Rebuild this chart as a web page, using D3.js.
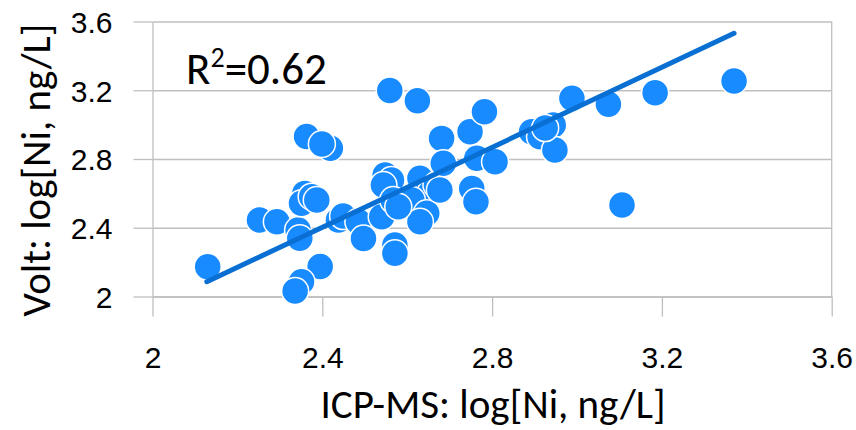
<!DOCTYPE html>
<html>
<head>
<meta charset="utf-8">
<script src="https://cdn.jsdelivr.net/npm/d3@7"></script>
<style>
  body { margin: 0; background: #fff; }
  svg { display: block; font-family: Carlito, Calibri, Lato, sans-serif; }
</style>
</head>
<body>
<div id="chart"></div>
<script>
// ICP-MS vs Volt, log[Ni, ng/L]
const icpValues = [
  2.130, 2.252, 2.293, 2.343, 2.347, 2.359, 2.351, 2.375, 2.387, 2.395,
  2.351, 2.336, 2.363, 2.419, 2.399, 2.438, 2.449, 2.485, 2.497, 2.540,
  2.548, 2.563, 2.544, 2.567, 2.559, 2.624, 2.571, 2.571, 2.630, 2.654,
  2.669, 2.611, 2.646, 2.630, 2.579, 2.681, 2.685, 2.748, 2.782, 2.752,
  2.762, 2.764, 2.807, 2.893, 2.913, 2.944, 2.948, 2.925, 2.988, 3.074,
  3.184, 3.370, 3.106, 2.677,
]
const voltValues = [
  2.173, 2.445, 2.435, 2.387, 2.339, 2.600, 2.542, 2.581, 2.561, 2.175,
  2.086, 2.032, 2.931, 2.862, 2.887, 2.445, 2.468, 2.435, 2.337, 2.464,
  2.707, 2.678, 2.649, 2.561, 3.198, 3.139, 2.300, 2.251, 2.688, 2.600,
  2.649, 2.561, 2.484, 2.435, 2.522, 2.920, 2.775, 2.959, 3.075, 2.629,
  2.551, 2.804, 2.784, 2.959, 2.930, 2.998, 2.852, 2.980, 3.153, 3.118,
  3.186, 3.254, 2.532, 2.620,
]
// linear trendline end points
const trendX = [2.128, 3.37]
const trendY = [2.086, 3.531]
const tickValues = [2, 2.4, 2.8, 3.2, 3.6]
const rSquaredLabel = '0.62'

const width = 856
const height = 430
const marginLeft = 152.5
const marginRight = 24.3
const marginTop = 21.5
const marginBottom = 133.5
const coreChartWidth = width - marginLeft - marginRight
const coreChartHeight = height - marginTop - marginBottom

const gridColor = '#bfbfbf'
const dotColor = '#178bff'
const lineColor = '#0a6fd2'
const tickFontSize = 30
const titleFontSize = 41

const svg = d3
  .select('#chart')
  .append('svg')
  .attr('width', width)
  .attr('height', height)

const chartCore = svg
  .append('g')
  .attr('transform', `translate(${marginLeft},${marginTop})`)

const xScale = d3.scaleLinear().domain([2, 3.6]).range([0, coreChartWidth])
const yScale = d3.scaleLinear().domain([2, 3.6]).range([coreChartHeight, 0])

// horizontal grid
chartCore
  .append('g')
  .call(
    d3.axisLeft(yScale).tickValues(tickValues).tickSize(-coreChartWidth),
  )
  .call(g => g.select('.domain').remove())
  .call(g => g.selectAll('.tick text').remove())
  .call(g =>
    g.selectAll('.tick line').attr('stroke', gridColor).attr('stroke-width', 1.3),
  )

// right border
chartCore
  .append('line')
  .attr('x1', coreChartWidth)
  .attr('x2', coreChartWidth)
  .attr('y1', 0)
  .attr('y2', coreChartHeight)
  .attr('stroke', gridColor)
  .attr('stroke-width', 1.3)

// y axis
chartCore
  .append('g')
  .call(
    d3
      .axisLeft(yScale)
      .tickValues(tickValues)
      .tickSize(19)
      .tickSizeOuter(0)
      .tickPadding(21)
      .tickFormat(d3.format('')),
  )
  .call(g => g.select('.domain').attr('stroke', gridColor).attr('stroke-width', 1.3))
  .call(g => g.selectAll('.tick line').attr('stroke', gridColor).attr('stroke-width', 1.3))
  .call(g =>
    g
      .selectAll('.tick text')
      .attr('fill', '#000')
      .style('font-size', `${tickFontSize}px`)
      .attr('dy', '0.36em'),
  )

// x axis
chartCore
  .append('g')
  .attr('transform', `translate(0,${coreChartHeight})`)
  .call(
    d3
      .axisBottom(xScale)
      .tickValues(tickValues)
      .tickSize(20)
      .tickSizeOuter(0)
      .tickPadding(30)
      .tickFormat(d3.format('')),
  )
  .call(g => g.select('.domain').attr('stroke', gridColor).attr('stroke-width', 1.3))
  .call(g => g.selectAll('.tick line').attr('stroke', gridColor).attr('stroke-width', 1.3))
  .call(g =>
    g
      .selectAll('.tick text')
      .attr('fill', '#000')
      .style('font-size', `${tickFontSize}px`)
      .attr('dy', '0.71em'),
  )

// points
const points = icpValues.map((x, i) => ({ x, y: voltValues[i] }))
chartCore
  .append('g')
  .selectAll('circle')
  .data(points)
  .join('circle')
  .attr('cx', d => xScale(d.x))
  .attr('cy', d => yScale(d.y))
  .attr('r', 13.5)
  .attr('fill', dotColor)
  .attr('stroke', '#fff')
  .attr('stroke-width', 1.5)

// trendline
chartCore
  .append('path')
  .datum(trendX.map((x, i) => [x, trendY[i]]))
  .attr('fill', 'none')
  .attr('stroke', lineColor)
  .attr('stroke-width', 5)
  .attr('stroke-linecap', 'round')
  .attr(
    'd',
    d3
      .line()
      .x(d => xScale(d[0]))
      .y(d => yScale(d[1])),
  )

// R squared label
const rLabel = svg
  .append('text')
  .attr('x', 186)
  .attr('y', 84)
  .attr('fill', '#000')
  .style('font-size', '45px')
rLabel.append('tspan').text('R')
rLabel
  .append('tspan')
  .attr('dy', -17)
  .style('font-size', '28px')
  .text('2')
rLabel.append('tspan').attr('dy', 17).text(`=${rSquaredLabel}`)

// axis titles
svg
  .append('text')
  .attr('x', 493)
  .attr('y', 418)
  .attr('text-anchor', 'middle')
  .attr('fill', '#000')
  .style('font-size', `${titleFontSize}px`)
  .text('ICP-MS: log[Ni, ng/L]')

svg
  .append('text')
  .attr('transform', `translate(50, 170) rotate(-90)`)
  .attr('text-anchor', 'middle')
  .attr('fill', '#000')
  .style('font-size', `${titleFontSize}px`)
  .text('Volt: log[Ni, ng/L]')
</script>
</body>
</html>
